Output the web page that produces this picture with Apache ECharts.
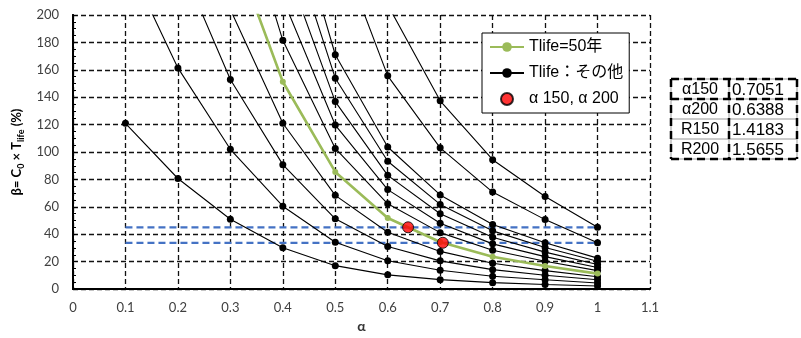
<!DOCTYPE html>
<html><head><meta charset="utf-8">
<script src="https://cdn.jsdelivr.net/npm/echarts@6/dist/echarts.min.js"></script>
<style>html,body{margin:0;padding:0;background:#fff}#c{width:801px;height:338px}</style>
</head><body><div id="c"></div>
<script>
// α values (x axis)
const alphas = [0.1, 0.2, 0.3, 0.4, 0.5, 0.6, 0.7, 0.8, 0.9, 1.0];
// β values (null = not plotted); values > 200 are off-chart
const tlife10  = [121, 80.7, 51.0, 30.2, 17.1, 10.4, 6.9, 4.7, 3.4, 2.3];
const tlife20  = [242, 161.4, 102.0, 60.5, 34.2, 20.7, 13.7, 9.4, 6.8, 4.5];
const tlife30  = [null, 242, 153.0, 90.8, 51.3, 31.1, 20.6, 14.2, 10.1, 6.8];
const tlife40  = [null, null, 204, 121.0, 68.4, 41.5, 27.5, 18.9, 13.5, 9.0];
const tlife50  = [null, null, 255, 151.3, 85.5, 51.9, 34.4, 23.6, 16.9, 11.3];
const tlife60  = [null, null, 306, 181.5, 102.6, 62.2, 41.2, 28.3, 20.3, 13.5];
const tlife70  = [null, null, null, 211.8, 119.7, 72.6, 48.1, 33.0, 23.7, 15.8];
const tlife80  = [null, null, null, 242, 136.8, 83.0, 55.0, 37.8, 27.0, 18.0];
const tlife90  = [null, null, null, 272, 153.9, 93.3, 61.8, 42.5, 30.4, 20.3];
const tlife100 = [null, null, null, 302.5, 171.0, 103.7, 68.7, 47.2, 33.8, 22.6];
const tlife150 = [null, null, null, null, 256.5, 155.6, 103.1, 70.8, 50.7, 33.8];
const tlife200 = [null, null, null, null, 342, 207.4, 137.4, 94.4, 67.6, 45.1];
// red points (α150, α200)
const redX = [0.7051, 0.6388];
const redY = [33.8, 45.1];
// horizontal reference lines
const refLineX = [0.1, 1.0];
const refLineY = [45.1, 33.8];
// table
const tableLabels = ['α150', 'α200', 'R150', 'R200'];
const tableValues = ['0.7051', '0.6388', '1.4183', '1.5655'];

const otherName = 'Tlife：その他';
const greenName = 'Tlife=50年';
const redName = 'α 150, α 200';

const toPairs = vals => alphas.map((a, i) => [a, vals[i]]);

const blackSets = [tlife10, tlife20, tlife30, tlife40, tlife60, tlife70, tlife80, tlife90, tlife100, tlife150, tlife200];

const series = [];
refLineY.forEach(y => {
  series.push({
    type: 'line', data: refLineX.map(x => [x, y]), symbol: 'none', silent: true,
    lineStyle: { color: '#4472C4', width: 2.2, type: [7, 4] }, z: 3
  });
});
blackSets.forEach(vals => {
  series.push({
    name: otherName, type: 'line', data: toPairs(vals), clip: true,
    symbol: 'circle', symbolSize: 7,
    itemStyle: { color: '#000' }, lineStyle: { color: '#000', width: 1.1 }, z: 4
  });
});
series.push({
  name: greenName, type: 'line', data: toPairs(tlife50), clip: true,
  symbol: 'circle', symbolSize: 6,
  itemStyle: { color: '#9BBB59' }, lineStyle: { color: '#9BBB59', width: 2.6 }, z: 5
});
series.push({
  name: redName, type: 'scatter', data: redX.map((x, i) => [x, redY[i]]),
  symbol: 'circle', symbolSize: 11,
  itemStyle: { color: '#FF0000', borderColor: '#000', borderWidth: 1 }, z: 6
});

// table graphics
const tL = 671, tC = 729, tR = 797, tTop = 79, rowH = 20;
const g = [];
for (let i = 0; i <= 4; i++) {
  g.push({ type: 'line', shape: { x1: tL, y1: tTop + i * rowH, x2: tR, y2: tTop + i * rowH }, style: { stroke: '#999', lineWidth: 1 } });
}
[tL, tC, tR].forEach(x => g.push({ type: 'line', shape: { x1: x, y1: tTop, x2: x, y2: tTop + 4 * rowH }, style: { stroke: '#999', lineWidth: 1 } }));
const dashStyle = { stroke: '#000', lineWidth: 2.5, lineDash: [8, 5] };
[0, 1, 4].forEach(i => g.push({ type: 'line', shape: { x1: tL, y1: tTop + i * rowH, x2: tR, y2: tTop + i * rowH }, style: dashStyle }));
[tL, tC, tR].forEach(x => g.push({ type: 'line', shape: { x1: x, y1: tTop, x2: x, y2: tTop + 4 * rowH }, style: dashStyle }));
tableLabels.forEach((t, i) => {
  g.push({ type: 'text', x: (tL + tC) / 2, y: tTop + i * rowH + rowH / 2 + 1,
    style: { text: t, font: '16px "Liberation Sans", "Noto Sans CJK JP"', fill: '#000', align: 'center', verticalAlign: 'middle' } });
  g.push({ type: 'text', x: tC + 3, y: tTop + i * rowH + rowH / 2 + 1,
    style: { text: tableValues[i], font: '17px "Liberation Sans", "Noto Sans CJK JP"', fill: '#000', align: 'left', verticalAlign: 'middle' } });
});

const gridDash = { color: '#111', width: 1.3, type: [5, 3] };
const chart = echarts.init(document.getElementById('c'), null, { renderer: 'canvas' });
chart.setOption({
  animation: false,
  backgroundColor: '#fff',
  grid: { left: 73, right: 151, top: 15, bottom: 45 },
  legend: {
    data: [greenName, otherName, redName],
    orient: 'vertical', left: 482, top: 33, width: 146,
    backgroundColor: '#fff', borderColor: '#000', borderWidth: 1,
    padding: [6, 6, 6, 7], itemGap: 10, itemWidth: 34, itemHeight: 12,
    textStyle: { fontSize: 16, fontFamily: 'Liberation Sans, Noto Sans CJK JP', color: '#000' }
  },
  xAxis: [{
    type: 'value', min: 0, max: 1.1, interval: 0.1,
    name: 'α', nameLocation: 'middle', nameGap: 28,
    nameTextStyle: { fontSize: 14, fontWeight: 'bold', fontFamily: 'Lato', color: '#333' },
    axisLine: { show: true, onZero: false, lineStyle: { color: '#000', width: 2 } },
    axisTick: { show: false },
    axisLabel: { fontSize: 13, fontFamily: 'Lato', color: '#404040', margin: 12 },
    splitLine: { show: true, lineStyle: gridDash }
  }, {
    type: 'value', min: 0, max: 1.1, interval: 0.1, position: 'top',
    axisLine: { show: true, lineStyle: { color: '#000', width: 1.5 } },
    axisTick: { show: false }, axisLabel: { show: false }, splitLine: { show: false }
  }],
  yAxis: [{
    type: 'value', min: 0, max: 200, interval: 20,
    name: '{b|β= C}{s|0}{b| × T}{s|life}{b| (%)}', nameLocation: 'middle', nameGap: 42,
    nameTextStyle: {
      rich: {
        b: { fontSize: 13, fontWeight: 'bold', fontFamily: 'Lato', color: '#000', lineHeight: 18, verticalAlign: 'middle' },
        s: { fontSize: 9, fontWeight: 'bold', fontFamily: 'Lato', color: '#000', lineHeight: 18, verticalAlign: 'bottom', padding: [6, 0, 0, 0] }
      }
    },
    axisLine: { show: true, lineStyle: { color: '#000', width: 2 } },
    axisTick: { show: true, inside: true, length: 4, lineStyle: { color: '#000' } },
    minorTick: { show: true, splitNumber: 4, length: 3, lineStyle: { color: '#000' } },
    axisLabel: { fontSize: 13, fontFamily: 'Lato', color: '#404040', margin: 14 },
    splitLine: { show: true, lineStyle: gridDash }
  }, {
    type: 'value', min: 0, max: 200, interval: 20, position: 'right',
    axisLine: { show: true, lineStyle: { color: '#000', width: 2, type: [5, 3] } },
    axisTick: { show: false }, axisLabel: { show: false }, splitLine: { show: false }
  }],
  series: series,
  graphic: g
});
</script>
</body></html>
